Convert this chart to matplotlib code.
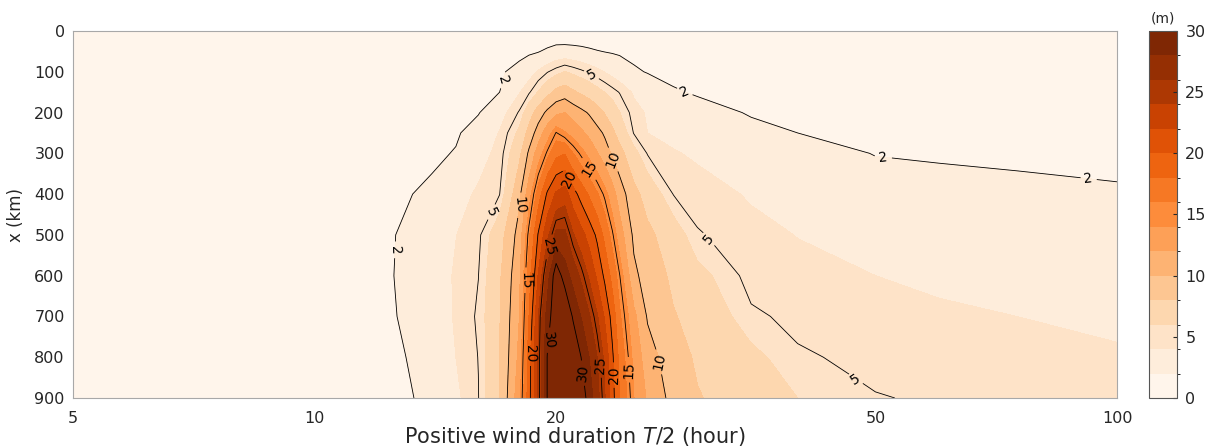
import numpy as np
import matplotlib
matplotlib.use("Agg")
import matplotlib.pyplot as plt
from matplotlib.colors import ListedColormap, BoundaryNorm
from matplotlib.cm import ScalarMappable

# Positive wind duration T/2 (hours) and distance x (km) of the grid
T_hours = [5, 8, 11, 12.5, 14, 15, 16, 17, 18, 18.5, 19, 19.5, 20, 20.5, 21, 21.5,
           22, 22.5, 23, 23.5, 24, 25, 26, 28, 30, 35, 40, 50, 60, 75, 100]
x_km = [0, 50, 100, 150, 200, 250, 300, 400, 500, 600, 700, 800, 900]

# Amplitude (m), one row per distance
h_000 = [0.2, 0.2, 0.2, 0.2, 0.2, 0.2, 0.25, 0.25, 0.3, 0.3, 0.3, 0.3, 0.3, 0.3, 0.3, 0.3,
         0.3, 0.3, 0.3, 0.25, 0.25, 0.25, 0.2, 0.2, 0.2, 0.2, 0.2, 0.2, 0.2, 0.2, 0.2]
h_050 = [0.3, 0.45, 0.56, 0.6, 0.79, 0.9, 1.0, 1.26, 1.49, 1.69, 1.9, 2.35, 2.8, 2.85, 2.73, 2.56,
         2.33, 2.1, 1.94, 1.83, 1.72, 1.5, 1.41, 1.25, 1.1, 1.01, 0.93, 0.8, 0.75, 0.68, 0.6]
h_100 = [0.4, 0.58, 0.74, 0.8, 1.0, 1.1, 1.38, 1.76, 2.57, 3.37, 4.17, 4.92, 5.5, 6.05, 5.65, 5.25,
         4.84, 4.39, 3.94, 3.51, 3.08, 2.26, 1.9, 1.6, 1.45, 1.32, 1.2, 1.1, 1.02, 0.92, 0.8]
h_150 = [0.4, 0.65, 0.85, 0.95, 1.1, 1.25, 1.5, 1.99, 3.91, 4.84, 6.08, 7.33, 8.56, 9.05, 8.29, 7.7,
         7.12, 6.54, 5.98, 5.44, 4.93, 3.8, 3.2, 2.15, 1.85, 1.6, 1.45, 1.3, 1.2, 1.1, 1.0]
h_200 = [0.4, 0.7, 0.95, 1.05, 1.25, 1.5, 1.9, 3.37, 5.14, 7.04, 8.92, 10.46, 11.6, 12.0, 11.2, 10.5,
         9.78, 8.81, 7.86, 6.95, 6.04, 4.5, 3.83, 3.27, 2.55, 1.88, 1.6, 1.28, 1.24, 1.2, 1.1]
h_250 = [0.4, 0.75, 1.05, 1.2, 1.45, 1.8, 2.74, 4.09, 6.39, 8.71, 10.96, 13.06, 15.1, 14.16, 13.25, 12.36,
         11.5, 10.65, 9.71, 8.45, 7.19, 4.92, 4.0, 3.63, 3.29, 2.4, 2.0, 1.6, 1.55, 1.5, 1.38]
h_300 = [0.4, 0.8, 1.15, 1.35, 1.7, 2.1, 3.4, 4.43, 7.55, 10.38, 12.93, 15.3, 17.4, 17.9, 16.02, 14.64,
         13.37, 12.12, 10.9, 9.75, 8.67, 6.58, 4.91, 4.11, 3.79, 3.0, 2.55, 1.95, 1.85, 1.76, 1.63]
h_400 = [0.4, 0.9, 1.35, 1.7, 2.3, 3.45, 4.22, 4.95, 9.56, 13.06, 16.88, 20.33, 22.3, 23.0, 20.82, 19.2,
         17.69, 16.19, 14.66, 12.85, 11.05, 8.59, 7.2, 4.96, 4.55, 3.85, 3.2, 2.65, 2.47, 2.32, 2.16]
h_500 = [0.4, 1.0, 1.55, 1.9, 3.14, 3.97, 4.74, 7.14, 10.84, 15.56, 20.2, 23.45, 26.5, 26.5, 24.17, 22.67,
         21.19, 19.6, 17.39, 15.26, 12.93, 9.59, 8.45, 6.9, 5.1, 4.39, 3.96, 3.35, 3.08, 2.88, 2.68]
h_600 = [0.4, 1.0, 1.6, 1.95, 3.27, 4.15, 4.98, 7.71, 11.57, 17.0, 22.13, 26.98, 31.5, 28.98, 27.25, 25.57,
         23.66, 21.62, 19.57, 17.32, 15.06, 10.45, 9.13, 7.61, 6.5, 4.55, 4.4, 4.0, 3.69, 3.44, 3.21]
h_700 = [0.4, 1.0, 1.55, 1.85, 3.17, 4.14, 5.18, 7.89, 12.01, 17.99, 23.96, 28.88, 31.8, 32.6, 29.68, 27.9,
         26.17, 24.2, 21.75, 19.25, 16.31, 12.49, 9.81, 8.13, 7.33, 5.2, 4.7, 4.45, 4.25, 4.0, 3.74]
h_800 = [0.4, 0.95, 1.45, 1.65, 2.7, 4.0, 5.03, 7.91, 12.53, 19.13, 24.15, 30.1, 33.0, 35.0, 32.3, 29.93,
         27.96, 26.0, 23.49, 20.38, 17.4, 13.45, 10.85, 8.79, 7.75, 6.42, 5.15, 4.66, 4.55, 4.35, 4.15]
h_900 = [0.4, 0.9, 1.4, 1.6, 2.35, 3.71, 4.96, 7.97, 13.28, 19.27, 24.15, 30.1, 33.5, 36.0, 34.5, 31.3,
         29.03, 26.7, 24.14, 20.77, 17.96, 14.02, 11.73, 9.27, 8.12, 6.94, 6.0, 5.06, 4.85, 4.65, 4.45]

rows = [h_000, h_050, h_100, h_150, h_200, h_250, h_300,
        h_400, h_500, h_600, h_700, h_800, h_900]

fill_levels = np.arange(0, 32, 2)
line_levels = [2, 5, 10, 15, 20, 25, 30]
cbar_ticks = [0, 5, 10, 15, 20, 25, 30]
x_ticks = [5, 10, 20, 50, 100]
y_ticks = [0, 100, 200, 300, 400, 500, 600, 700, 800, 900]

# where each contour level carries its inline label (T, x)
label_spots = {
    2: [(17.6, 127), (28.8, 157), (51.1, 309), (92, 368), (12.7, 537)],
    5: [(22.2, 103), (16.7, 446), (30.7, 517), (46.7, 868)],
    10: [(17.9, 427), (23.5, 316), (26.4, 814)],
    15: [(18.2, 611), (22.2, 333), (24.5, 831)],
    20: [(18.45, 790), (20.5, 370), (23.5, 844)],
    25: [(19.65, 530), (22.8, 819)],
    30: [(19.5, 758), (21.6, 839)],
}

Z = np.array(rows)

W, H = 1206, 448
fig = plt.figure(figsize=(W / 100, H / 100), dpi=100)
ax = fig.add_axes([73 / W, 50 / H, 1044 / W, 367 / H])

band_colors = plt.cm.Oranges(np.linspace(0, 1, len(fill_levels) - 1))
cmap = ListedColormap(band_colors)
cmap.set_over(band_colors[-1])
norm = BoundaryNorm(fill_levels, cmap.N)

ax.set_xscale("log")
ax.contourf(T_hours, x_km, Z, levels=fill_levels, cmap=cmap, norm=norm, extend="max")

for lev in line_levels:
    cs = ax.contour(T_hours, x_km, Z, levels=[lev], colors="k", linewidths=0.6)
    ax.clabel(cs, fmt="%d", fontsize=10, inline=True, inline_spacing=4,
              manual=label_spots[lev])

ax.set_xlim(5, 100)
ax.set_ylim(900, 0)
ax.set_xticks(x_ticks)
ax.set_xticklabels([str(t) for t in x_ticks])
ax.xaxis.set_minor_locator(matplotlib.ticker.NullLocator())
ax.set_yticks(y_ticks)
ax.tick_params(axis="both", length=0, labelsize=11.5, colors="#262626")
ax.tick_params(axis="x", pad=9)
ax.tick_params(axis="y", pad=6)
for sp in ax.spines.values():
    sp.set_color("#a8a8a8")
    sp.set_linewidth(0.8)

ax.set_ylabel("x (km)", fontsize=12, color="#262626")
ax.yaxis.set_label_coords((25 - 73) / 1044, 0.5)
fig.text(746 / W, 1 - 436 / H, "Positive wind duration $T$/2 (hour)",
         ha="right", va="center", fontsize=15, color="#262626")

cax = fig.add_axes([1149 / W, 50 / H, 28 / W, 367 / H])
sm = ScalarMappable(norm=norm, cmap=cmap)
cb = fig.colorbar(sm, cax=cax, ticks=cbar_ticks)
cb.ax.tick_params(direction="in", length=3, width=0.8, labelsize=11.5,
                  colors="#262626", pad=6)
cb.outline.set_edgecolor("#555555")
cb.outline.set_linewidth(0.8)
cax.text(0.5, 1.015, "(m)", transform=cax.transAxes, ha="center", va="bottom",
         fontsize=10, color="#262626")

fig.savefig("out.png", dpi=100)
